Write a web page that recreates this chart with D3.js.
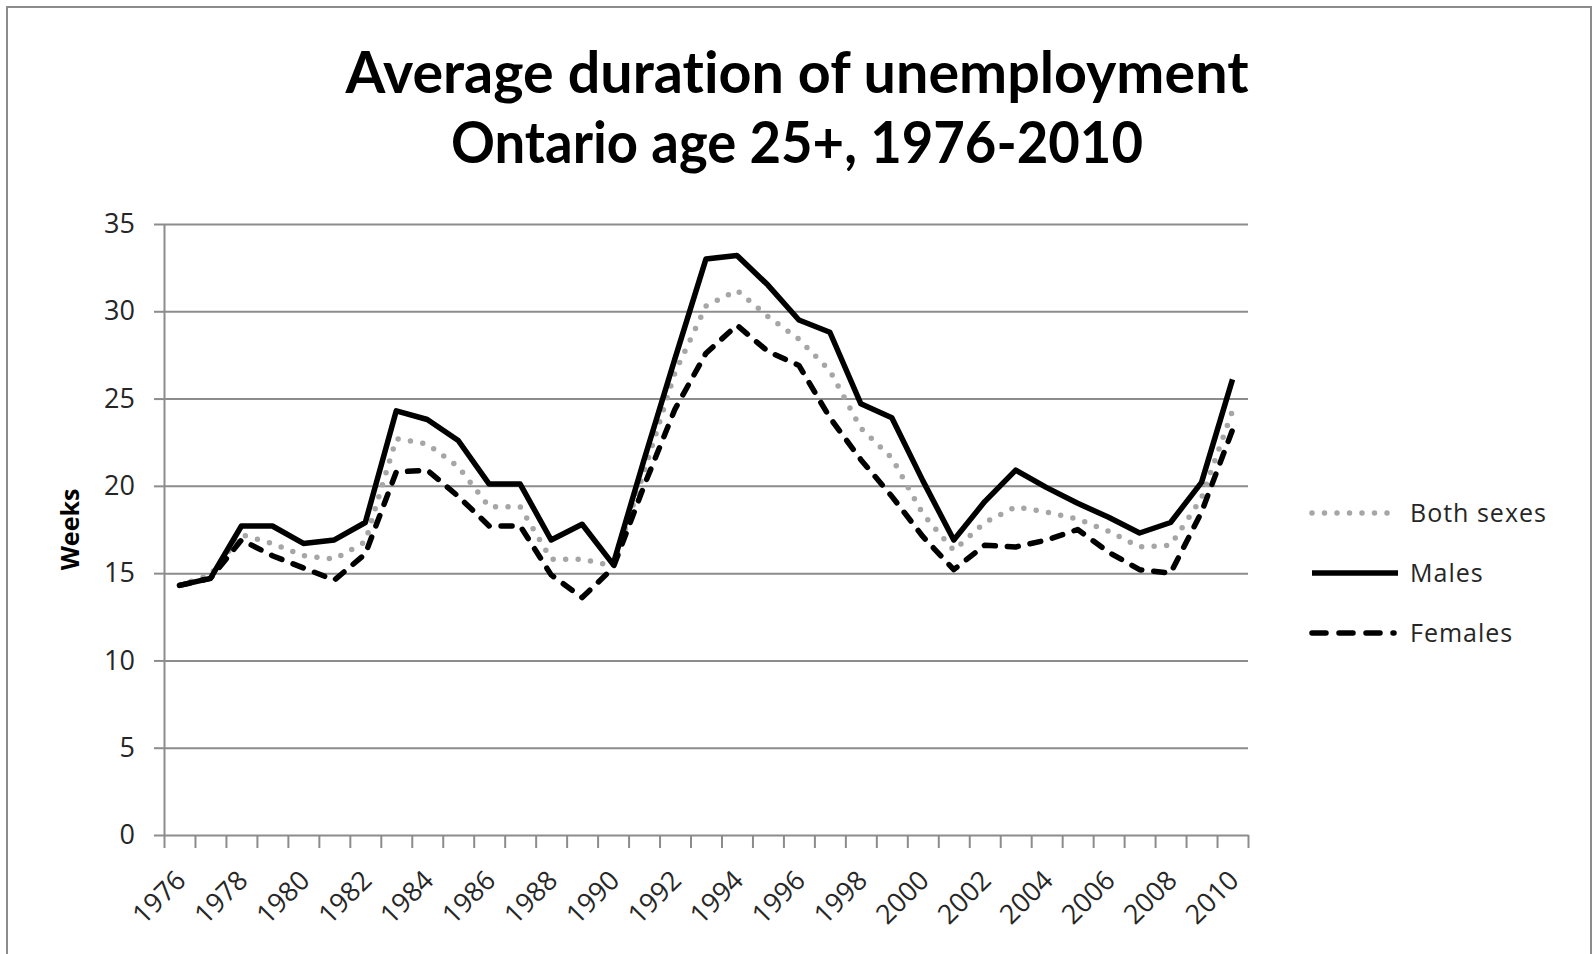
<!DOCTYPE html>
<html>
<head>
<meta charset="utf-8">
<script src="https://cdn.jsdelivr.net/npm/d3@7"></script>
<style>
  body { margin: 0; background: #fff; }
  text { font-family: "Open Sans", "DejaVu Sans", sans-serif; fill: #262626; }
  .grid line { stroke: #8c8c8c; stroke-width: 2; }
  .grid path { display: none; }
  .axis line, .axis path { stroke: #8c8c8c; stroke-width: 2; }
</style>
</head>
<body>
<script>
// chart data
var years = d3.range(1976, 2011);
var bothSexes = [14.3, 14.9, 17.2, 16.7, 16.0, 15.8, 16.8, 22.7, 22.4, 21.1, 18.8, 18.8, 15.8, 15.8, 15.4,
                 20.8, 26.5, 30.3, 31.2, 29.7, 28.4, 26.6, 23.3, 21.6, 18.4, 16.3, 17.9, 18.8, 18.5, 18.1,
                 17.4, 16.5, 16.6, 19.3, 24.3];
var males = [14.3, 14.7, 17.7, 17.7, 16.7, 16.9, 17.9, 24.3, 23.8, 22.6, 20.1, 20.1, 16.9, 17.8, 15.5,
             21.5, 27.3, 33.0, 33.2, 31.5, 29.5, 28.8, 24.7, 23.9, 20.3, 16.9, 19.1, 20.9, 19.9, 19.0,
             18.2, 17.3, 17.9, 20.2, 26.1];
var females = [14.3, 14.7, 16.9, 16.0, 15.3, 14.6, 16.1, 20.8, 20.9, 19.4, 17.7, 17.7, 14.9, 13.6, 15.3,
               20.0, 24.4, 27.6, 29.2, 27.7, 26.9, 23.9, 21.5, 19.4, 17.1, 15.2, 16.6, 16.5, 16.9, 17.5,
               16.2, 15.2, 15.0, 18.5, 23.2];
var yTicks = [0, 5, 10, 15, 20, 25, 30, 35];
var xLabels = years.filter(function(d) { return (d - 1976) % 2 === 0; });
var seriesNames = ["Both sexes", "Males", "Females"];

var W = 1593, H = 954;
var margin = {top: 224, right: 345, bottom: 119, left: 164},
    width = W - margin.left - margin.right,
    height = H - margin.top - margin.bottom;

var svg = d3.select("body").append("svg")
    .attr("width", W)
    .attr("height", H);

// outer frame (bottom edge falls off the picture)
svg.append("rect")
    .attr("x", 7).attr("y", 7)
    .attr("width", 1584).attr("height", 960)
    .attr("fill", "none")
    .attr("stroke", "#8c8c8c")
    .attr("stroke-width", 2);

// title
var title = svg.append("text")
    .attr("text-anchor", "middle")
    .style("font-family", "Lato, 'Open Sans', sans-serif")
    .style("font-weight", "bold")
    .style("font-size", "58px")
    .style("font-variant-ligatures", "none")
    .style("fill", "#000");
title.append("tspan").attr("x", 797).attr("y", 93)
    .attr("textLength", 903).attr("lengthAdjust", "spacingAndGlyphs")
    .text("Average duration of unemployment");
title.append("tspan").attr("x", 797).attr("y", 163)
    .attr("textLength", 692).attr("lengthAdjust", "spacingAndGlyphs")
    .text("Ontario age 25+, 1976-2010");

var g = svg.append("g")
    .attr("transform", "translate(" + margin.left + "," + margin.top + ")");

// scales
var x = d3.scaleBand().domain(years).range([0, width]);
var xEdge = d3.scaleLinear().domain([0, years.length]).range([0, width]);
var y = d3.scaleLinear().domain([0, 35]).range([height, 0]);

// horizontal gridlines
g.append("g")
    .attr("class", "grid")
    .call(d3.axisLeft(y).tickValues(yTicks.slice(1)).tickSize(-width).tickFormat(""));

// y axis
var yAxis = g.append("g")
    .attr("class", "axis")
    .call(d3.axisLeft(y).tickValues(yTicks).tickSize(10).tickPadding(19).tickSizeOuter(0));
yAxis.selectAll("text")
    .style("font-size", "27px")
    .style("fill", "#262626");

// x axis: tick marks between categories
g.append("g")
    .attr("class", "axis")
    .attr("transform", "translate(0," + height + ")")
    .call(d3.axisBottom(xEdge).tickValues(d3.range(years.length + 1)).tickSize(13).tickFormat("").tickSizeOuter(0));

// rotated year labels
g.append("g").selectAll("text")
    .data(xLabels)
  .enter().append("text")
    .attr("transform", function(d) {
      return "translate(" + (x(d) + x.bandwidth() / 2 + 8) + "," + (height + 47) + ") rotate(-45)";
    })
    .attr("text-anchor", "end")
    .style("font-size", "27px")
    .text(function(d) { return d; });

// y axis title
svg.append("text")
    .attr("transform", "translate(79," + (margin.top + height / 2) + ") rotate(-90)")
    .attr("text-anchor", "middle")
    .style("font-size", "25px")
    .style("font-weight", "bold")
    .style("fill", "#000")
    .text("Weeks");

// lines
var styles = [
  {color: "#a6a6a6", width: 5.5, dash: "0,12.5", cap: "round"},
  {color: "#000", width: 5.5, dash: null, cap: "butt"},
  {color: "#000", width: 5.5, dash: "11,12", cap: "round"}
];
var series = [bothSexes, males, females];

var line = d3.line()
    .x(function(d, i) { return x(years[i]) + x.bandwidth() / 2; })
    .y(function(d) { return y(d); });

series.forEach(function(s, k) {
  g.append("path")
      .datum(s)
      .attr("fill", "none")
      .attr("stroke", styles[k].color)
      .attr("stroke-width", styles[k].width)
      .attr("stroke-linejoin", "round")
      .attr("stroke-linecap", styles[k].cap)
      .attr("stroke-dasharray", styles[k].dash)
      .attr("d", line);
});

// legend
var legend = svg.append("g")
    .attr("transform", "translate(1310,513)");
seriesNames.forEach(function(name, k) {
  legend.append("line")
      .attr("x1", 2).attr("x2", k === 1 ? 88 : 84)
      .attr("y1", k * 60).attr("y2", k * 60)
      .attr("stroke", styles[k].color)
      .attr("stroke-width", styles[k].width)
      .attr("stroke-linecap", styles[k].cap)
      .attr("stroke-dasharray", k === 2 ? "14,13" : styles[k].dash);
  legend.append("text")
      .attr("x", 100)
      .attr("y", k * 60)
      .attr("dy", "0.36em")
      .style("font-size", "25px")
      .style("letter-spacing", "1px")
      .text(name);
});
</script>
</body>
</html>
